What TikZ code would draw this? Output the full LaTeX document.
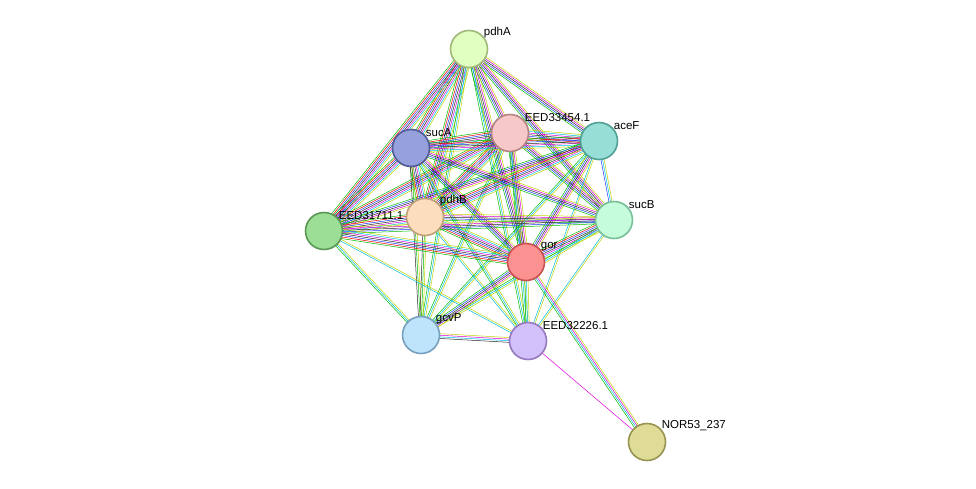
\documentclass[tikz,border=0pt]{standalone}
\usepackage{fontspec}
\setmainfont{Liberation Sans}
\usetikzlibrary{calc}

\definecolor{cG}{RGB}{0,190,0}
\definecolor{cR}{RGB}{240,0,0}
\definecolor{cB}{RGB}{30,60,255}
\definecolor{cK}{RGB}{40,40,40}
\definecolor{cM}{RGB}{220,0,220}
\definecolor{cC}{RGB}{0,190,230}
\definecolor{cY}{RGB}{190,210,0}

% one colored strand per evidence channel
\newcommand{\link}[4]{%
  \foreach \c [count=\i] in {#4}{%
    \pgfmathsetmacro\off{(\i-(#3+1)/2)*1.6}
    \draw[\c] ($(#1.center)!\off pt!90:(#2.center)$) -- ($(#2.center)!\off pt!-90:(#1.center)$);
  }}

\begin{document}
\begin{tikzpicture}[x=1pt,y=-1pt,line width=0.5pt]
  \tikzstyle{protein}=[circle,minimum size=37pt,inner sep=0pt,line width=1.6pt]
  \tikzstyle{lbl}=[anchor=south west,inner sep=0pt,xshift=1pt,yshift=-3pt,font=\fontsize{11.5}{12}\selectfont]
  \path[use as bounding box] (0,0) rectangle (976,488);

  % coordinates for the nodes
  \coordinate (pdhA) at (469,49);
  \coordinate (E334) at (510,133);
  \coordinate (aceF) at (599,141);
  \coordinate (sucA) at (411,148);
  \coordinate (pdhB) at (425,217);
  \coordinate (E317) at (324,231);
  \coordinate (sucB) at (614,220);
  \coordinate (gor) at (526,262);
  \coordinate (gcvP) at (421,335);
  \coordinate (E322) at (528,341);
  \coordinate (NOR) at (647,442);

  % edges
  \link{pdhA}{E334}{5}{cG,cB,cK,cM,cY}
  \link{pdhA}{aceF}{5}{cG,cB,cK,cM,cY}
  \link{pdhA}{sucA}{7}{cG,cR,cB,cK,cM,cC,cY}
  \link{pdhA}{pdhB}{7}{cG,cR,cB,cK,cM,cC,cY}
  \link{pdhA}{E317}{7}{cG,cR,cB,cK,cM,cC,cY}
  \link{pdhA}{sucB}{5}{cG,cB,cK,cM,cY}
  \link{pdhA}{gor}{5}{cG,cB,cK,cM,cY}
  \link{pdhA}{gcvP}{3}{cG,cC,cY}
  \link{pdhA}{E322}{3}{cG,cC,cY}
  \link{E334}{aceF}{7}{cG,cR,cB,cK,cM,cC,cY}
  \link{E334}{sucA}{7}{cG,cR,cB,cK,cM,cC,cY}
  \link{E334}{pdhB}{7}{cG,cR,cB,cK,cM,cC,cY}
  \link{E334}{E317}{7}{cG,cR,cB,cK,cM,cC,cY}
  \link{E334}{sucB}{5}{cG,cB,cK,cM,cY}
  \link{E334}{gor}{5}{cG,cB,cK,cM,cY}
  \link{E334}{gcvP}{3}{cG,cC,cY}
  \link{E334}{E322}{3}{cG,cC,cY}
  \link{aceF}{sucA}{7}{cG,cR,cB,cK,cM,cC,cY}
  \link{aceF}{pdhB}{7}{cG,cR,cB,cK,cM,cC,cY}
  \link{aceF}{E317}{5}{cG,cB,cK,cM,cY}
  \link{aceF}{sucB}{3}{cB,cC,cY}
  \link{aceF}{gor}{5}{cG,cB,cK,cM,cY}
  \link{aceF}{gcvP}{3}{cG,cC,cY}
  \link{aceF}{E322}{2}{cC,cY}
  \link{sucA}{pdhB}{7}{cG,cR,cB,cK,cM,cC,cY}
  \link{sucA}{E317}{7}{cG,cR,cB,cK,cM,cC,cY}
  \link{sucA}{sucB}{5}{cG,cB,cK,cM,cY}
  \link{sucA}{gor}{5}{cG,cB,cK,cM,cY}
  \link{sucA}{gcvP}{3}{cK,cG,cY}
  \link{sucA}{E322}{3}{cG,cC,cY}
  \link{pdhB}{E317}{7}{cG,cR,cB,cK,cM,cC,cY}
  \link{pdhB}{sucB}{5}{cG,cB,cK,cM,cY}
  \link{pdhB}{gor}{7}{cG,cR,cB,cK,cM,cC,cY}
  \link{pdhB}{gcvP}{3}{cK,cG,cY}
  \link{pdhB}{E322}{2}{cC,cY}
  \link{E317}{sucB}{5}{cG,cB,cK,cM,cY}
  \link{E317}{gor}{7}{cG,cR,cB,cK,cM,cC,cY}
  \link{E317}{gcvP}{3}{cG,cC,cY}
  \link{E317}{E322}{2}{cC,cY}
  \link{sucB}{gor}{7}{cG,cR,cB,cK,cM,cC,cY}
  \link{sucB}{gcvP}{3}{cG,cC,cY}
  \link{sucB}{E322}{2}{cC,cY}
  \link{gor}{gcvP}{5}{cG,cB,cK,cM,cY}
  \link{gor}{E322}{3}{cG,cC,cY}
  \link{gor}{NOR}{4}{cG,cC,cM,cY}
  \link{gcvP}{E322}{4}{cK,cC,cM,cY}
  \link{E322}{NOR}{1}{cM}

  % proteins
  \node[protein,fill={rgb,255:red,224;green,255;blue,192},draw={rgb,255:red,160;green,185;blue,120},label={[lbl]north east:pdhA}] (n-pdhA) at (pdhA) {};
  \node[protein,fill={rgb,255:red,246;green,200;blue,200},draw={rgb,255:red,180;green,130;blue,130},label={[lbl]north east:EED33454.1}] (n-E334) at (E334) {};
  \node[protein,fill={rgb,255:red,150;green,222;blue,214},draw={rgb,255:red,80;green,160;blue,150},label={[lbl]north east:aceF}] (n-aceF) at (aceF) {};
  \node[protein,fill={rgb,255:red,150;green,160;blue,220},draw={rgb,255:red,80;green,90;blue,150},label={[lbl]north east:sucA}] (n-sucA) at (sucA) {};
  \node[protein,fill={rgb,255:red,252;green,222;blue,190},draw={rgb,255:red,190;green,160;blue,120},label={[lbl]north east:pdhB}] (n-pdhB) at (pdhB) {};
  \node[protein,fill={rgb,255:red,156;green,222;blue,150},draw={rgb,255:red,90;green,150;blue,85},label={[lbl]north east:EED31711.1}] (n-E317) at (E317) {};
  \node[protein,fill={rgb,255:red,196;green,252;blue,220},draw={rgb,255:red,120;green,190;blue,150},label={[lbl]north east:sucB}] (n-sucB) at (sucB) {};
  \node[protein,fill={rgb,255:red,252;green,145;blue,145},draw={rgb,255:red,200;green,80;blue,80},label={[lbl]north east:gor}] (n-gor) at (gor) {};
  \node[protein,fill={rgb,255:red,190;green,228;blue,252},draw={rgb,255:red,120;green,160;blue,190},label={[lbl]north east:gcvP}] (n-gcvP) at (gcvP) {};
  \node[protein,fill={rgb,255:red,210;green,192;blue,250},draw={rgb,255:red,150;green,120;blue,190},label={[lbl]north east:EED32226.1}] (n-E322) at (E322) {};
  \node[protein,fill={rgb,255:red,222;green,220;blue,150},draw={rgb,255:red,150;green,148;blue,80},label={[lbl]north east:NOR53\_237}] (n-NOR) at (NOR) {};
\end{tikzpicture}
\end{document}
